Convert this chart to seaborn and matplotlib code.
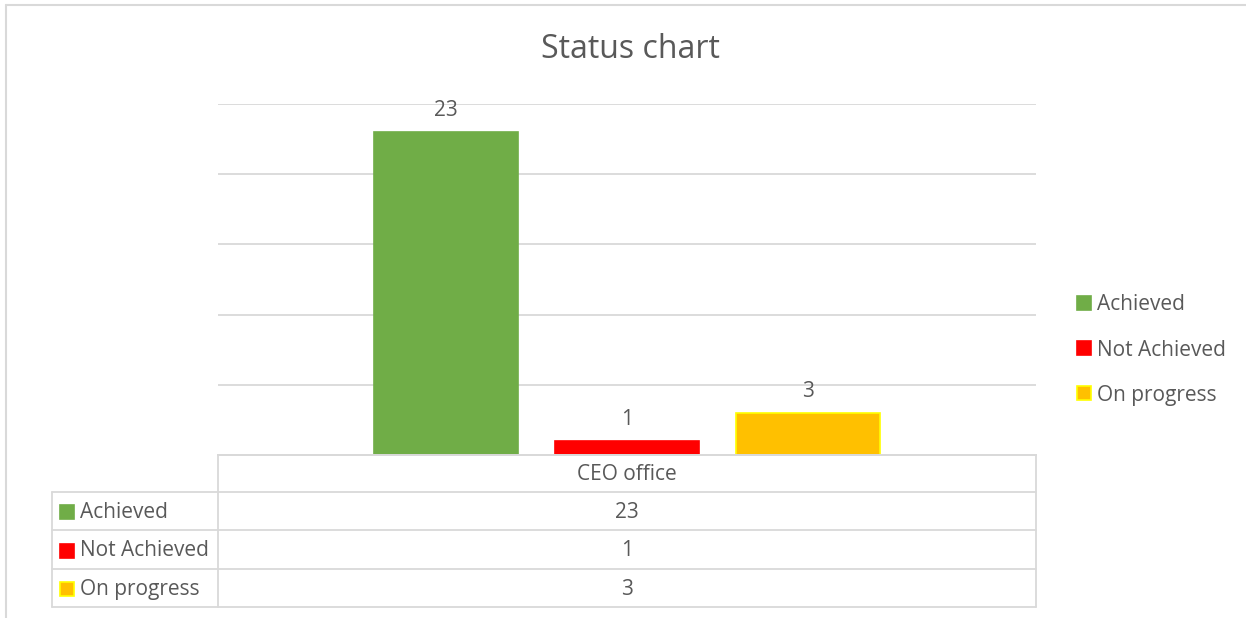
import pandas as pd
import matplotlib
matplotlib.use("Agg")
import matplotlib.pyplot as plt
import seaborn as sns
from matplotlib.lines import Line2D
from matplotlib.patches import Rectangle

# -----------------------------------
# DATA
# -----------------------------------

statuses = ["Achieved", "Not Achieved", "On progress"]
counts = [23, 1, 3]
office = "CEO office"
bar_colors = ["#70AD47", "#FF0000", "#FFC000"]
edge_colors = ["#70AD47", "#FF0000", "#FFFF00"]

df = pd.DataFrame({
    "office": [office] * len(statuses),
    "status": statuses,
    "count": counts,
})

# -----------------------------------
# STYLE
# -----------------------------------

sns.set_style("white")
plt.rcParams["font.family"] = ["Open Sans", "DejaVu Sans"]

TXT = "#595959"
GRID = "#D9D9D9"
FS = 15
W, H = 1246, 618


def fx(px):
    return px / W


def fy(py):
    return 1 - py / H


fig = plt.figure(figsize=(W / 100, H / 100), dpi=100)

# plot area in pixel layout
ax = fig.add_axes([fx(218), fy(455), fx(1036) - fx(218), fy(104) - fy(455)])

sns.barplot(
    data=df,
    x="office",
    y="count",
    hue="status",
    palette=bar_colors,
    saturation=1,
    width=0.664,
    gap=0.205,
    ax=ax,
    legend=False,
)

for bar, ec in zip(ax.patches, edge_colors):
    bar.set_edgecolor(ec)
    bar.set_linewidth(1.2)

for cont in ax.containers:
    ax.bar_label(cont, padding=8, fontsize=FS, color=TXT)

ax.set_xlim(-0.5, 0.5)
ax.set_ylim(0, 25)
ax.set_yticks(range(0, 26, 5))
ax.set_yticklabels([])
ax.set_xticks([])
ax.set_xlabel("")
ax.set_ylabel("")
ax.yaxis.grid(True, color=GRID, linewidth=1.3)
ax.set_axisbelow(True)
for s in ["top", "right", "left"]:
    ax.spines[s].set_visible(False)
ax.spines["bottom"].set_color(GRID)
ax.spines["bottom"].set_linewidth(1.3)
ax.tick_params(left=False, bottom=False)

# legend on the right
handles = [
    Rectangle((0, 0), 1, 1, facecolor=c, edgecolor=e, linewidth=1.2)
    for c, e in zip(bar_colors, edge_colors)
]
fig.legend(
    handles,
    statuses,
    loc="center left",
    bbox_to_anchor=(fx(1058), fy(350)),
    frameon=False,
    fontsize=FS,
    labelcolor=TXT,
    handlelength=0.67,
    handleheight=0.67,
    handletextpad=0.3,
    labelspacing=1.16,
)

# title
fig.text(fx(630), fy(50), "Status chart", ha="center", va="center",
         fontsize=23, color=TXT)

# -----------------------------------
# DATA TABLE UNDER THE CHART
# -----------------------------------

def hline(x0, x1, y):
    fig.add_artist(Line2D([fx(x0), fx(x1)], [fy(y), fy(y)], color=GRID, lw=1.3))


def vline(x, y0, y1):
    fig.add_artist(Line2D([fx(x), fx(x)], [fy(y0), fy(y1)], color=GRID, lw=1.3))


rows_y = [492, 530, 569, 607]
hline(218, 1036, 455)
for y in rows_y:
    hline(52, 1036, y)
vline(52, 492, 607)
vline(218, 455, 607)
vline(1036, 455, 607)

fig.text(fx(627), fy(475), office, ha="center", va="center", fontsize=FS, color=TXT)

for i, (name, val) in enumerate(zip(statuses, counts)):
    yc = (rows_y[i] + rows_y[i + 1]) / 2
    fig.add_artist(Rectangle((fx(60), fy(yc + 8)), fx(14), fy(0) - fy(14),
                             facecolor=bar_colors[i], edgecolor=edge_colors[i],
                             lw=1.2, transform=fig.transFigure))
    fig.text(fx(80), fy(yc + 1.5), name, ha="left", va="center", fontsize=FS, color=TXT)
    fig.text(fx(627), fy(yc + 1.5), str(val), ha="center", va="center", fontsize=FS, color=TXT)

# outer chart border
fig.add_artist(Line2D([fx(6), fx(6)], [fy(5), 0], color=GRID, lw=1.5))
fig.add_artist(Line2D([fx(6), 1], [fy(5), fy(5)], color=GRID, lw=1.5))

plt.savefig("out.png", dpi=100)
